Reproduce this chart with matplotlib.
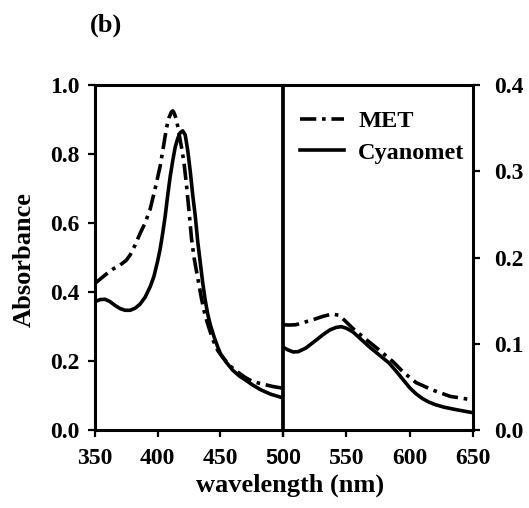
import matplotlib
matplotlib.use("Agg")
import matplotlib.pyplot as plt
from matplotlib.lines import Line2D

# ---- data ----
met_left_wl = [350, 355, 360, 365, 370, 375, 378, 382, 386, 390, 394, 398, 402, 405, 407, 409, 411, 412,
               413, 415, 417, 419, 421, 423, 425, 427, 429, 431, 433, 435, 438, 441, 444, 448, 452, 458,
               465, 470, 476, 484, 492, 500]
met_left_abs = [0.425, 0.44, 0.455, 0.468, 0.478, 0.492, 0.507, 0.536, 0.57, 0.60, 0.64, 0.70, 0.765, 0.83,
                0.875, 0.905, 0.922, 0.925, 0.92, 0.90, 0.86, 0.82, 0.775, 0.71, 0.635, 0.555, 0.50, 0.46,
                0.42, 0.38, 0.33, 0.295, 0.262, 0.23, 0.21, 0.185, 0.165, 0.152, 0.14, 0.133, 0.126, 0.121]

cyano_left_wl = [350, 354, 358, 362, 366, 370, 374, 378, 382, 386, 390, 394, 397, 400, 402, 404, 406, 408,
                 410, 412, 414, 416, 418, 420, 422, 424, 426, 428, 430, 432, 434, 436, 438, 440, 442, 445,
                 448, 450, 455, 460, 465, 470, 476, 482, 490, 500]
cyano_left_abs = [0.372, 0.378, 0.379, 0.372, 0.361, 0.352, 0.347, 0.347, 0.353, 0.365, 0.385, 0.415, 0.445,
                  0.49, 0.525, 0.57, 0.62, 0.68, 0.735, 0.78, 0.82, 0.845, 0.862, 0.867, 0.855, 0.81, 0.75,
                  0.68, 0.62, 0.545, 0.485, 0.425, 0.375, 0.335, 0.305, 0.27, 0.24, 0.222, 0.195, 0.173,
                  0.157, 0.145, 0.13, 0.117, 0.104, 0.093]

met_right_wl = [500, 505, 510, 516, 524, 532, 539, 544, 548, 555, 563, 571, 579, 587, 595, 605, 618, 632, 650]
met_right_abs = [0.122, 0.1217, 0.122, 0.1246, 0.128, 0.132, 0.1345, 0.133, 0.128, 0.118, 0.108, 0.0986,
                 0.089, 0.079, 0.067, 0.055, 0.0464, 0.039, 0.0348]

cyano_right_wl = [500, 504, 508, 512, 518, 526, 532, 537, 542, 546, 550, 555, 561, 568, 576, 584, 590, 595,
                  600, 605, 610, 615, 620, 627, 637, 650]
cyano_right_abs = [0.096, 0.0928, 0.0905, 0.0908, 0.095, 0.104, 0.111, 0.116, 0.119, 0.1198, 0.118, 0.114,
                   0.106, 0.0966, 0.087, 0.0773, 0.067, 0.058, 0.049, 0.042, 0.0365, 0.0325, 0.0295, 0.0265,
                   0.0235, 0.020]

left_xticks = [350, 400, 450, 500]
right_xticks = [500, 550, 600, 650]
left_yticks = [0.0, 0.2, 0.4, 0.6, 0.8, 1.0]
right_yticks = [0.0, 0.1, 0.2, 0.3, 0.4]
series_labels = ["MET", "Cyanomet"]

# ---- style ----
SERIF = "Liberation Serif"
SANS = "Liberation Sans"
W, H = 529, 508
lw = 2.6
spine_lw = 2.2
met_dash = (0, (4.5, 1.6, 1.0, 1.6))

fig = plt.figure(figsize=(W / 100, H / 100), dpi=100)
bottom = 1 - 430 / H
height = 345 / H
ax1 = fig.add_axes([95 / W, bottom, 188 / W, height])
ax2 = fig.add_axes([283 / W, bottom, 190 / W, height])
for ax in (ax1, ax2):
    ax.set_facecolor("none")

ax1.plot(met_left_wl, met_left_abs, color="black", lw=lw, linestyle=met_dash)
ax1.plot(cyano_left_wl, cyano_left_abs, color="black", lw=lw, solid_capstyle="round")
ax2.plot(met_right_wl, met_right_abs, color="black", lw=lw, linestyle=met_dash)
ax2.plot(cyano_right_wl, cyano_right_abs, color="black", lw=lw, solid_capstyle="round")

ax1.set_xlim(350, 500)
ax1.set_ylim(0, 1.0)
ax2.set_xlim(500, 650)
ax2.set_ylim(0, 0.4)

for ax in (ax1, ax2):
    for s in ax.spines.values():
        s.set_linewidth(spine_lw)
        s.set_zorder(5)
ax1.spines["right"].set_linewidth(2.7)
ax1.spines["right"].set_capstyle("butt")
ax2.spines["left"].set_visible(False)

tick_fs_y = 17
tick_fs_x = 17

ax1.set_yticks(left_yticks)
ax1.set_yticklabels([f"{v:.1f}" for v in left_yticks], fontfamily=SERIF, fontweight="bold", fontsize=tick_fs_y)
ax1.set_xticks(left_xticks)
ax1.set_xticklabels([str(v) for v in left_xticks], fontfamily=SERIF, fontweight="bold", fontsize=tick_fs_x)
lbl500 = ax1.get_xticklabels()[-1]
lbl500.set_fontfamily(SANS)
lbl500.set_fontsize(15.5)
ax1.tick_params(axis="both", direction="out", length=5, width=1.6, top=False, right=False)
ax1.tick_params(axis="y", pad=6)
ax1.tick_params(axis="x", pad=8)

ax2.yaxis.tick_right()
ax2.set_yticks(right_yticks)
ax2.set_yticklabels([f"{v:.1f}" for v in right_yticks], fontfamily=SERIF, fontweight="bold", fontsize=tick_fs_y)
ax2.set_xticks(right_xticks)
ax2.set_xticklabels([""] + [str(v) for v in right_xticks[1:]], fontfamily=SERIF, fontweight="bold",
                    fontsize=tick_fs_x)
ax2.tick_params(axis="both", direction="out", length=5, width=1.6, top=False, left=False)
ax2.tick_params(axis="y", pad=10)
ax2.tick_params(axis="x", pad=8)

handles = [Line2D([], [], color="black", lw=lw, linestyle=met_dash),
           Line2D([], [], color="black", lw=lw)]
leg = fig.legend(handles, series_labels, loc="upper left", bbox_to_anchor=(300 / W, 1 - 110 / H),
                 bbox_transform=fig.transFigure, frameon=False, borderpad=0, borderaxespad=0,
                 handlelength=1.8, handletextpad=0.6, labelspacing=0.4,
                 prop={"family": SERIF, "weight": "bold", "size": 17.5})

fig.text(90 / W, 1 - 25 / H, "(b)", ha="left", va="center", fontfamily=SERIF, fontweight="bold", fontsize=19)
fig.text(24 / W, 1 - 260 / H, "Absorbance", rotation=90, ha="center", va="center",
         fontfamily=SERIF, fontweight="bold", fontsize=19)
fig.text(290 / W, 1 - 485 / H, "wavelength (nm)", ha="center", va="center",
         fontfamily=SERIF, fontweight="bold", fontsize=19)

fig.savefig("out.png", dpi=100, facecolor="white")
